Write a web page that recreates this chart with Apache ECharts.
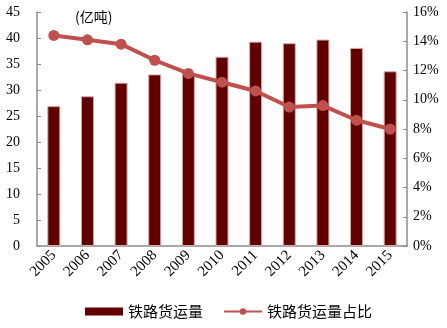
<!DOCTYPE html>
<html><head><meta charset="utf-8">
<script src="https://cdn.jsdelivr.net/npm/echarts@6/dist/echarts.min.js"></script>
<style>html,body{margin:0;padding:0;background:#fff}#c{width:447px;height:328px}</style>
</head><body><div id="c"></div>
<script>
const years = ['2005','2006','2007','2008','2009','2010','2011','2012','2013','2014','2015'];
const freight = [26.9, 28.8, 31.4, 33.0, 33.3, 36.4, 39.3, 39.0, 39.7, 38.1, 33.6];
const share = [14.4, 14.1, 13.8, 12.7, 11.8, 11.2, 10.6, 9.5, 9.6, 8.6, 8.0];
const unitLabel = '(亿吨)';
const seriesNames = ['铁路货运量', '铁路货运量占比'];

const serif = '"Liberation Serif","Times New Roman",serif';
const cjk = '"Noto Sans CJK SC",sans-serif';
const chart = echarts.init(document.getElementById('c'));
chart.setOption({
  animation: false,
  title: { text: unitLabel, left: 70, top: 5, textStyle: { fontSize: 14, fontWeight: 'normal', color: '#000', fontFamily: cjk } },
  grid: { left: 37, right: 40, top: 12, bottom: 82 },
  legend: {
    bottom: 4, left: 80, itemGap: 20, itemWidth: 38, itemHeight: 8,
    textStyle: { fontSize: 15, color: '#000', fontFamily: cjk },
    data: [
      { name: seriesNames[0], icon: 'rect', itemStyle: { borderWidth: 0 } },
      { name: seriesNames[1] }
    ]
  },
  xAxis: {
    type: 'category', data: years,
    axisLine: { lineStyle: { color: '#8c8c8c', width: 1.5 } },
    axisTick: { inside: true, length: 5, lineStyle: { color: '#8c8c8c' } },
    axisLabel: { rotate: 45, fontSize: 15, color: '#000', fontFamily: serif, margin: 7, interval: 0 }
  },
  yAxis: [{
    type: 'value', min: 0, max: 45, interval: 5,
    splitLine: { show: false },
    axisLine: { show: true, lineStyle: { color: '#8c8c8c', width: 1.5 } },
    axisTick: { show: true, inside: true, length: 4, lineStyle: { color: '#8c8c8c' } },
    axisLabel: { fontSize: 14, color: '#000', fontFamily: serif, margin: 17 }
  }, {
    type: 'value', min: 0, max: 16, interval: 2, position: 'right',
    splitLine: { show: false },
    axisLine: { show: true, lineStyle: { color: '#8c8c8c', width: 1.5 } },
    axisTick: { show: true, inside: true, length: 4, lineStyle: { color: '#8c8c8c' } },
    axisLabel: { fontSize: 14, color: '#000', fontFamily: serif, margin: 6, formatter: v => v + '%' }
  }],
  series: [{
    name: seriesNames[0], type: 'bar', data: freight, barWidth: 13,
    itemStyle: { color: '#600000', borderColor: '#d8a8a8', borderWidth: 1 }
  }, {
    name: seriesNames[1], type: 'line', yAxisIndex: 1, data: share,
    symbol: 'circle', symbolSize: 11,
    lineStyle: { color: '#c0504d', width: 4 },
    itemStyle: { color: '#c0504d' }
  }]
});
</script></body></html>
